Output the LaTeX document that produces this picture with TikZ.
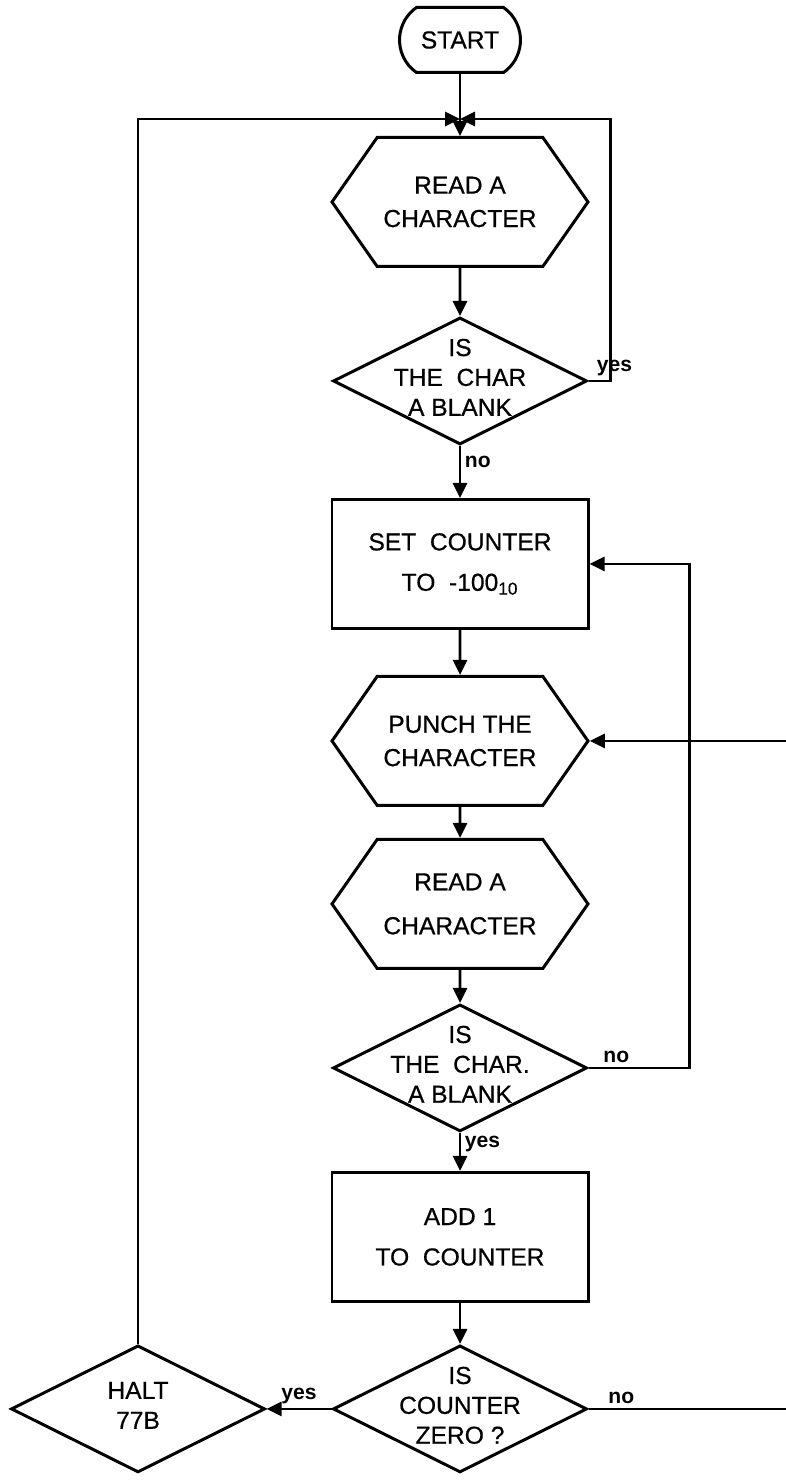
\documentclass[tikz,border=0pt]{standalone}
\usepackage{fontspec}
\setmainfont{Liberation Sans}
\newfontfamily\lettering{Liberation Sans}[FakeBold=0.6]
\usetikzlibrary{arrows.meta, positioning, shapes.geometric, shapes.misc, shapes.symbols}

\newcommand\dtext[1]{\makebox[0pt]{\smash{\raisebox{-3pt}{\begin{tabular}{@{}c@{}}#1\end{tabular}}}}}

\begin{document}
\begin{tikzpicture}[
    font=\lettering\fontsize{14}{17}\selectfont,
    node distance=1cm,
    term/.style={draw, line width=1.7pt, rounded rectangle, rounded rectangle arc length=110, minimum width=2.56cm, minimum height=1.3cm, inner sep=2pt},
    hexbox/.style={draw, line width=1.7pt, signal, signal to=east and west, signal pointer angle=110, minimum width=5.12cm, minimum height=2.58cm, inner sep=2pt, align=center},
    procbox/.style={draw, line width=1.7pt, rectangle, minimum width=5.12cm, minimum height=2.58cm, align=center},
    decision/.style={draw, line width=1.7pt, diamond, minimum width=5.08cm, minimum height=2.54cm, inner sep=0pt},
    lbl/.style={font=\fontsize{12}{14}\selectfont\bfseries, inner sep=2pt},
    arrow/.style={-{Triangle[length=3mm, width=2.8mm]}, line width=1.6pt}
]
  \useasboundingbox (0,0) rectangle (15.7,-29.6);

  \node[term] (start) at (9.2,-0.8) {START};
  \coordinate[below=0.9cm of start] (join);
  \node[hexbox, below=1.24cm of start] (read) {READ A\\[2pt]CHARACTER};
  \node[decision, below=0.96cm of read] (blank) {\dtext{IS\\THE~~CHAR\\A BLANK}};
  \node[procbox, below=1.04cm of blank] (setcnt) {SET~~COUNTER\\[6pt]TO~~-100\textsubscript{10}};
  \node[hexbox, below=0.9cm of setcnt] (punch) {PUNCH THE\\[2pt]CHARACTER};
  \node[hexbox, below=0.62cm of punch] (readnext) {READ A\\[8pt]CHARACTER};
  \node[decision, below=0.66cm of readnext] (blanknext) {\dtext{IS\\THE~~CHAR.\\A BLANK}};
  \node[procbox, below=0.76cm of blanknext] (addone) {ADD 1\\[6pt]TO~~COUNTER};
  \node[decision, below=0.82cm of addone] (zero) {\dtext{IS\\COUNTER\\ZERO ?}};
  \node[decision, left=1.3cm of zero] (halt) {\dtext{HALT\\77B}};

  \draw[arrow] (start.south) -- (read.north);
  \draw[arrow] (halt.north) |- (join);
  \draw[arrow] (blank.east) node[lbl, anchor=south west, xshift=2pt] {yes} -- ++(0.44,0) |- (join);
  \draw[arrow] (read) -- (blank);
  \draw[arrow] (blank) -- node[lbl, pos=0.3, right] {no} (setcnt);
  \draw[arrow] (setcnt) -- (punch);
  \draw[arrow] (punch) -- (readnext);
  \draw[arrow] (readnext) -- (blanknext);
  \draw[arrow] (blanknext) -- node[lbl, pos=0.3, right] {yes} (addone);
  \draw[arrow] (blanknext.east) node[lbl, anchor=south west, xshift=0.2cm] {no} -- ++(2.02,0) |- (setcnt.east);
  \draw[arrow] (addone) -- (zero);
  \draw[arrow] (zero.west) -- node[lbl, above] {yes} (halt.east);
  \draw[arrow] (zero.east) node[lbl, anchor=south west, xshift=0.3cm] {no} -- ++(8,0) |- (punch.east);
\end{tikzpicture}
\end{document}
